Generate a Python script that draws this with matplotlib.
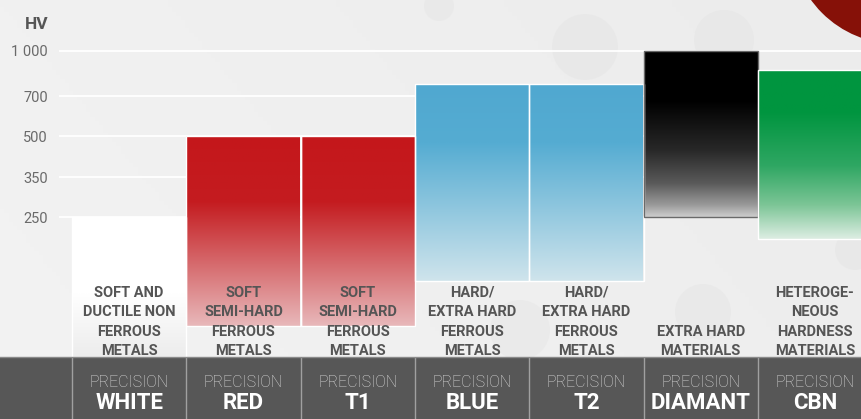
import numpy as np
import matplotlib
matplotlib.use("Agg")
import matplotlib.pyplot as plt
from matplotlib.colors import to_rgb
from matplotlib.patches import Circle, Rectangle

plt.rcParams["font.family"] = ["Roboto", "DejaVu Sans"]

W, H = 861, 419
COL_PX = 114.3  # width of one tool column in pixels

# --- data -----------------------------------------------------------------
TOOLS = ["WHITE", "RED", "T1", "BLUE", "T2", "DIAMANT", "CBN"]
MATERIALS = [
    "SOFT AND\nDUCTILE NON\nFERROUS\nMETALS",
    "SOFT\nSEMI-HARD\nFERROUS\nMETALS",
    "SOFT\nSEMI-HARD\nFERROUS\nMETALS",
    "HARD/\nEXTRA HARD\nFERROUS\nMETALS",
    "HARD/\nEXTRA HARD\nFERROUS\nMETALS",
    "EXTRA HARD\nMATERIALS",
    "HETEROGE-\nNEOUS\nHARDNESS\nMATERIALS",
]
HV_TOP = [250, 500, 500, 780, 780, 1000, 870]
HV_BOTTOM = [0, 55, 55, 136, 136, 250, 210]
HV_TICKS = [250, 350, 500, 700, 1000]
HV_TICK_LABELS = ["250", "350", "500", "700", "1 000"]

# the HV axis is not linear: ticks are drawn roughly evenly spaced
SCALE_HV = [0, 250, 350, 500, 700, 1000, 1400]
SCALE_POS = [0, 140, 180, 221, 261, 306, 366]

# vertical colour stops per tool (0 = top of bar, 1 = bottom)
GRADIENTS = [
    [(0, "#ffffff"), (0.55, "#ffffff"), (1, "#ececec")],
    [(0, "#c4171b"), (0.35, "#c41c20"), (1, "#e8b8ba")],
    [(0, "#c4171b"), (0.35, "#c41c20"), (1, "#e8b8ba")],
    [(0, "#50a8d0"), (0.3, "#55acd2"), (1, "#cfe4ec")],
    [(0, "#50a8d0"), (0.3, "#55acd2"), (1, "#cfe4ec")],
    [(0, "#000000"), (0.3, "#000000"), (0.6, "#282828"), (0.8, "#5a5a5a"),
     (0.93, "#9a9a9a"), (1, "#cccccc")],
    [(0, "#00953f"), (0.25, "#00953f"), (0.57, "#2fa763"), (0.8, "#7cc596"),
     (1, "#dcede2")],
]
EDGES = ["white", "white", "white", "white", "white", "#6a6a6a", "white"]


def fwd(v):
    return np.interp(v, SCALE_HV, SCALE_POS)


def inv(p):
    return np.interp(p, SCALE_POS, SCALE_HV)


def gradient_image(stops, y0, y1, n=400):
    vals = y1 - (np.arange(n) + 0.5) / n * (y1 - y0)
    t = (fwd(y1) - fwd(vals)) / (fwd(y1) - fwd(y0))
    ts = [s[0] for s in stops]
    cols = np.array([to_rgb(c) for _, c in stops])
    rgb = np.stack([np.interp(t, ts, cols[:, k]) for k in range(3)], axis=-1)
    return rgb[:, None, :]


fig = plt.figure(figsize=(W / 100, H / 100), dpi=100)

# background with faint circles
bg = fig.add_axes([0, 0, 1, 1], zorder=-1)
bg.set_xlim(0, W)
bg.set_ylim(H, 0)
bg.axis("off")
gx, gy = np.meshgrid(np.linspace(0, 1, 200), np.linspace(0, 1, 100))
shade = 0.945 - 0.02 * gx + 0.008 * gy
bg.imshow(np.dstack([shade] * 3), extent=(0, W, H, 0), aspect="auto", zorder=0)
for cx, cy, r in [(439, 6, 15), (585, 47, 33), (724, 40, 30), (724, 182, 28),
                  (585, 190, 30), (520, 330, 30), (703, 312, 28), (855, 250, 20)]:
    bg.add_patch(Circle((cx, cy), r, color="#d8d8d8", alpha=0.2, lw=0, zorder=1))
bg.add_patch(Circle((897, -62), 106, color="#861108", lw=0, zorder=1))
bg.add_patch(Rectangle((0, 357), W, H - 357, color="#575757", lw=0, zorder=2))

# main chart
ax = fig.add_axes([59 / W, 62 / H, 802 / W, 357 / H])
ax.patch.set_visible(False)
ax.set_yscale("function", functions=(fwd, inv))
x = np.arange(len(TOOLS))
heights = [t - b for t, b in zip(HV_TOP, HV_BOTTOM)]
bars = ax.bar(x, heights, bottom=HV_BOTTOM, width=1, facecolor="none",
              edgecolor=EDGES, linewidth=1, zorder=3)
for bar, stops in zip(bars, GRADIENTS):
    x0, y0 = bar.get_x(), bar.get_y()
    x1, y1 = x0 + bar.get_width(), y0 + bar.get_height()
    im = ax.imshow(gradient_image(stops, y0, y1), extent=(x0, x1, y0, y1),
                   aspect="auto", origin="upper", zorder=2, interpolation="bilinear")
    im.set_clip_path(bar)

xmin = -0.5 - 13 / COL_PX
ax.set_xlim(xmin, xmin + 802 / COL_PX)
ax.set_ylim(0, inv(357))
ax.set_yticks(HV_TICKS)
ax.set_yticklabels(HV_TICK_LABELS)
ax.yaxis.set_minor_locator(matplotlib.ticker.NullLocator())
ax.set_xticks([])
ax.tick_params(axis="y", length=0, pad=8, labelsize=10.5, labelcolor="#6a6a6a")
ax.yaxis.grid(True, color="white", linewidth=1.3)
ax.set_axisbelow(True)
for s in ax.spines.values():
    s.set_visible(False)

for i, text in enumerate(MATERIALS):
    ax.text(i, -0.003, text, transform=ax.get_xaxis_transform(), ha="center",
            va="bottom", fontsize=10.5, fontweight="bold", color="#555555",
            linespacing=1.49, zorder=4)

fig.text(48 / W, 1 - 29 / H, "HV", ha="right", va="baseline", fontsize=12.5,
         fontweight="bold", color="#555555")

# bottom band with tool names
band = fig.add_axes([59 / W, 0, 802 / W, 62 / H], sharex=ax)
band.patch.set_visible(False)
band.set_ylim(0, 1)
band.axis("off")
for edge in np.arange(len(TOOLS) + 1) - 0.5:
    band.axvline(edge, color="#a0a0a0", linewidth=1)
for i, name in enumerate(TOOLS):
    band.text(i, 32 / 62, "PRECISION", ha="center", va="baseline", fontsize=11.5,
              fontweight="light", color="#dcdcdc")
    band.text(i, 10 / 62, name, ha="center", va="baseline", fontsize=16,
              fontweight="bold", color="white")
fig.add_artist(matplotlib.lines.Line2D([0, 1], [62 / H, 62 / H], color="#8a8a8a",
                                       linewidth=1))

fig.savefig("out.png", dpi=100)
